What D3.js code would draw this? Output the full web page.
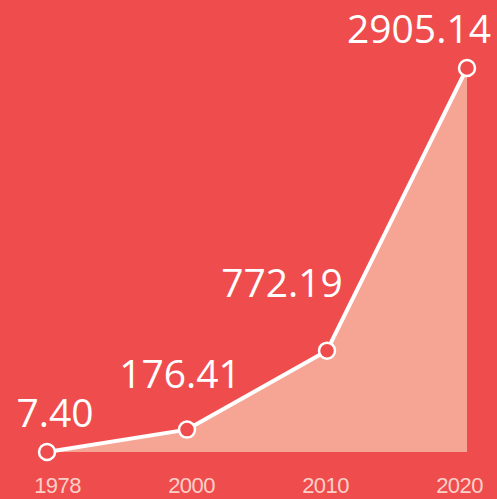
<!DOCTYPE html>
<html>
<head>
<meta charset="utf-8">
<script src="https://cdn.jsdelivr.net/npm/d3@7"></script>
<style>
  html, body { margin: 0; padding: 0; background: #ef4d4d; }
  svg { display: block; }
</style>
</head>
<body>
<svg id="chart"></svg>
<script>
// data
const years = ["1978", "2000", "2010", "2020"];
const values = [7.40, 176.41, 772.19, 2905.14];
const valueLabels = ["7.40", "176.41", "772.19", "2905.14"];

// label nudges (px) relative to each point
const labelDx = [8, -7, -45, -48];
const labelDy = [-25, -42, -54, -25];

const width = 497, height = 499;
const bg = "#ef4d4d";

const svg = d3.select("#chart").attr("width", width).attr("height", height);

svg.append("rect").attr("width", width).attr("height", height).attr("fill", bg);

const x = d3.scalePoint().domain(years).range([47, 467]);
const xLabel = d3.scalePoint().domain(years).range([57, 459]);

const y = d3.scaleLinear()
  .domain([values[0], d3.max(values)])
  .range([452, 68]);

const data = years.map((yr, i) => ({ year: yr, value: values[i], label: valueLabels[i], i }));

const area = d3.area()
  .x((d) => x(d.year))
  .y0(y(values[0]))
  .y1((d) => y(d.value));

const line = d3.line()
  .x((d) => x(d.year))
  .y((d) => y(d.value));

svg.append("path")
  .datum(data)
  .attr("d", area)
  .attr("fill", "#f6a494");

svg.append("path")
  .datum(data)
  .attr("d", line)
  .attr("fill", "none")
  .attr("stroke", "#ffffff")
  .attr("stroke-width", 4)
  .attr("stroke-linejoin", "round");

svg.selectAll(".dot")
  .data(data)
  .join("circle")
  .attr("class", "dot")
  .attr("cx", (d) => x(d.year))
  .attr("cy", (d) => y(d.value))
  .attr("r", 8)
  .attr("fill", bg)
  .attr("stroke", "#ffffff")
  .attr("stroke-width", 2.5);

svg.selectAll(".val")
  .data(data)
  .join("text")
  .attr("class", "val")
  .attr("x", (d) => x(d.year) + labelDx[d.i])
  .attr("y", (d) => y(d.value) + labelDy[d.i])
  .attr("text-anchor", "middle")
  .style("font-family", "'Open Sans', sans-serif")
  .style("font-size", "39px")
  .style("fill", "#ffffff")
  .text((d) => d.label);

// x axis labels
const axis = svg.append("g")
  .attr("transform", `translate(0,493)`)
  .call(d3.axisBottom(xLabel).tickSize(0).tickPadding(0));

axis.select(".domain").remove();
axis.selectAll("text")
  .attr("dy", 0)
  .style("font-family", "'Liberation Sans', Arial, sans-serif")
  .style("font-size", "22px")
  .style("letter-spacing", "-0.6px")
  .style("fill", "#fbd0c8");
</script>
</body>
</html>
